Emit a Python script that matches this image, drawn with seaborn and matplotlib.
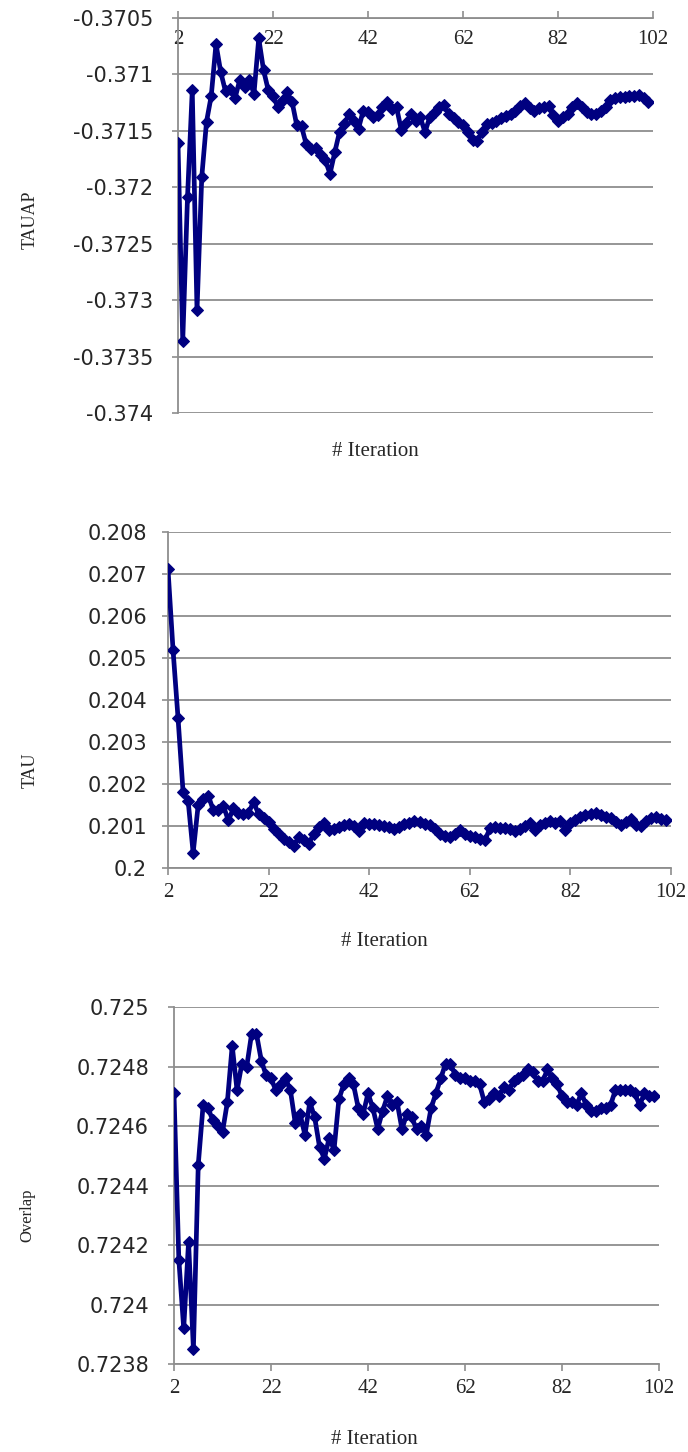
import matplotlib
matplotlib.use("Agg")
import matplotlib.pyplot as plt
import seaborn as sns
import pandas as pd

# ---- data -------------------------------------------------------------
iterations = list(range(2, 102))

tauap = [
    -0.37161, -0.37336, -0.37209, -0.37114, -0.37309, -0.37191, -0.37142, -0.37119, -0.37073, -0.37098,
    -0.37115, -0.37113, -0.37121, -0.37105, -0.37111, -0.37105, -0.37117, -0.37068, -0.37096, -0.37114,
    -0.37119, -0.37129, -0.37123, -0.37116, -0.37124, -0.37145, -0.37146, -0.37162, -0.37166, -0.37165,
    -0.37171, -0.37176, -0.37188, -0.37169, -0.37151, -0.37144, -0.37135, -0.37141, -0.37148, -0.37132,
    -0.37133, -0.37138, -0.37136, -0.37129, -0.37124, -0.37131, -0.37129, -0.37149, -0.37143, -0.37135,
    -0.37141, -0.37138, -0.37151, -0.37138, -0.37133, -0.37129, -0.37127, -0.37135, -0.37139, -0.37142,
    -0.37145, -0.37151, -0.37158, -0.37159, -0.37151, -0.37144, -0.37143, -0.37141, -0.37139, -0.37137,
    -0.37135, -0.37132, -0.37128, -0.37125, -0.37130, -0.37132, -0.37130, -0.37129, -0.37128, -0.37136,
    -0.37141, -0.37138, -0.37135, -0.37129, -0.37125, -0.37129, -0.37133, -0.37135, -0.37135, -0.37132,
    -0.37129, -0.37123, -0.37121, -0.37120, -0.37120, -0.37119, -0.37119, -0.37118, -0.37121, -0.37124,
]

tau = [
    0.20711, 0.20519, 0.20356, 0.20180, 0.20160, 0.20036, 0.20150, 0.20165, 0.20172, 0.20138,
    0.20138, 0.20148, 0.20113, 0.20142, 0.20130, 0.20128, 0.20130, 0.20158, 0.20128, 0.20118,
    0.20110, 0.20092, 0.20080, 0.20070, 0.20062, 0.20053, 0.20074, 0.20066, 0.20058, 0.20082,
    0.20097, 0.20107, 0.20090, 0.20093, 0.20098, 0.20102, 0.20104, 0.20100, 0.20088, 0.20107,
    0.20105, 0.20104, 0.20102, 0.20100, 0.20098, 0.20092, 0.20098, 0.20104, 0.20108, 0.20112,
    0.20109, 0.20105, 0.20102, 0.20093, 0.20082, 0.20076, 0.20074, 0.20080, 0.20090, 0.20080,
    0.20077, 0.20074, 0.20070, 0.20066, 0.20094, 0.20098, 0.20095, 0.20096, 0.20092, 0.20087,
    0.20093, 0.20100, 0.20108, 0.20091, 0.20102, 0.20108, 0.20112, 0.20108, 0.20112, 0.20090,
    0.20108, 0.20115, 0.20122, 0.20126, 0.20129, 0.20131, 0.20127, 0.20122, 0.20118, 0.20110,
    0.20102, 0.20110, 0.20117, 0.20102, 0.20100, 0.20112, 0.20118, 0.20121, 0.20117, 0.20113,
]

overlap = [
    0.72471, 0.72415, 0.72392, 0.72421, 0.72385, 0.72447, 0.72467, 0.72466, 0.72462, 0.72460,
    0.72458, 0.72468, 0.72487, 0.72472, 0.72481, 0.72480, 0.72491, 0.72491, 0.72482, 0.72477,
    0.72476, 0.72472, 0.72474, 0.72476, 0.72472, 0.72461, 0.72464, 0.72457, 0.72468, 0.72463,
    0.72453, 0.72449, 0.72456, 0.72452, 0.72469, 0.72474, 0.72476, 0.72474, 0.72466, 0.72464,
    0.72471, 0.72466, 0.72459, 0.72465, 0.72470, 0.72467, 0.72468, 0.72459, 0.72464, 0.72463,
    0.72459, 0.72460, 0.72457, 0.72466, 0.72471, 0.72476, 0.72481, 0.72481, 0.72477, 0.72476,
    0.72476, 0.72475, 0.72475, 0.72474, 0.72468, 0.72469, 0.72471, 0.72470, 0.72473, 0.72472,
    0.72475, 0.72476, 0.72477, 0.72479, 0.72478, 0.72475, 0.72475, 0.72479, 0.72476, 0.72474,
    0.72470, 0.72468, 0.72468, 0.72467, 0.72471, 0.72467, 0.72465, 0.72465, 0.72466, 0.72466,
    0.72467, 0.72472, 0.72472, 0.72472, 0.72472, 0.72471, 0.72467, 0.72471, 0.72470, 0.72470,
]

x_ticks = [2, 22, 42, 62, 82, 102]

tauap_ticks = [-0.3705, -0.371, -0.3715, -0.372, -0.3725, -0.373, -0.3735, -0.374]
tauap_labels = ["-0.3705", "-0.371", "-0.3715", "-0.372", "-0.3725", "-0.373", "-0.3735", "-0.374"]
tau_ticks = [0.208, 0.207, 0.206, 0.205, 0.204, 0.203, 0.202, 0.201, 0.2]
tau_labels = ["0.208", "0.207", "0.206", "0.205", "0.204", "0.203", "0.202", "0.201", "0.2"]
overlap_ticks = [0.725, 0.7248, 0.7246, 0.7244, 0.7242, 0.724, 0.7238]
overlap_labels = ["0.725", "0.7248", "0.7246", "0.7244", "0.7242", "0.724", "0.7238"]

# ---- style ------------------------------------------------------------
sns.set_style("white")
plt.rcParams["font.family"] = ["DejaVu Sans"]

W, H = 688, 1452
LINE = "#000080"
GRID = "#8e8e8e"
SERIF = "Liberation Serif"

fig = plt.figure(figsize=(W / 100, H / 100), dpi=100)


def add_axes(left, right, top, bottom):
    return fig.add_axes([left / W, 1 - bottom / H, (right - left) / W, (bottom - top) / H])


def style_axes(ax, yticks, ylabels, ylim, ypad, top_axis):
    ax.set_xlim(2, 102)
    ax.set_ylim(*ylim)
    ax.set_xticks(x_ticks)
    ax.set_xticklabels([str(t) for t in x_ticks], family=SERIF, fontsize=15)
    ax.set_yticks(yticks)
    ax.set_yticklabels(ylabels, fontsize=15)
    ax.set_xlabel("")
    ax.set_ylabel("")
    ax.grid(False)
    ax.yaxis.grid(True, color=GRID, linewidth=1.3)
    ax.set_axisbelow(True)
    for s in ("right",):
        ax.spines[s].set_visible(False)
    ax.spines["left"].set_color(GRID)
    ax.spines["left"].set_linewidth(1.3)
    ax.tick_params(axis="y", which="major", direction="out", length=4, width=1.2,
                   color=GRID, pad=ypad, left=True)
    if top_axis:
        ax.spines["bottom"].set_visible(False)
        ax.spines["top"].set_color(GRID)
        ax.spines["top"].set_linewidth(1.3)
        ax.tick_params(axis="x", which="major", direction="out", length=5, width=1.2,
                       color=GRID, top=True, labeltop=True, bottom=False,
                       labelbottom=False, pad=-27)
    else:
        ax.spines["top"].set_visible(False)
        ax.spines["bottom"].set_color(GRID)
        ax.spines["bottom"].set_linewidth(1.3)
        ax.tick_params(axis="x", which="major", direction="out", length=5, width=1.2,
                       color=GRID, bottom=True, labelbottom=True, pad=6)


def draw_series(ax, values):
    df = pd.DataFrame({"iteration": iterations, "value": values})
    sns.lineplot(data=df, x="iteration", y="value", ax=ax, color=LINE, linewidth=3.4,
                 marker="D", markersize=6, markeredgecolor=LINE, markerfacecolor=LINE,
                 legend=False, zorder=3)


# ---- TAUAP ------------------------------------------------------------
ax1 = add_axes(178, 653, 18, 413)
draw_series(ax1, tauap)
style_axes(ax1, tauap_ticks, tauap_labels, (-0.374, -0.3705), 14, top_axis=True)
fig.text(30 / W, 1 - 220 / H, "TAUAP", rotation=90, ha="center", va="center",
         family=SERIF, fontsize=13)
fig.text(375 / W, 1 - 452 / H, "# Iteration", ha="center", va="center",
         family=SERIF, fontsize=15)

# ---- TAU --------------------------------------------------------------
ax2 = add_axes(168, 671, 531.7, 868)
draw_series(ax2, tau)
style_axes(ax2, tau_ticks, tau_labels, (0.2, 0.208), 11, top_axis=False)
fig.text(30 / W, 1 - 770 / H, "TAU", rotation=90, ha="center", va="center",
         family=SERIF, fontsize=13)
fig.text(384 / W, 1 - 942 / H, "# Iteration", ha="center", va="center",
         family=SERIF, fontsize=15)

# ---- Overlap ----------------------------------------------------------
ax3 = add_axes(174, 659, 1007, 1364)
draw_series(ax3, overlap)
style_axes(ax3, overlap_ticks, overlap_labels, (0.7238, 0.725), 14, top_axis=False)
fig.text(27 / W, 1 - 1215 / H, "Overlap", rotation=90, ha="center", va="center",
         family=SERIF, fontsize=12)
fig.text(374 / W, 1 - 1440 / H, "# Iteration", ha="center", va="center",
         family=SERIF, fontsize=15)

fig.savefig("out.png", dpi=100, facecolor="white")
